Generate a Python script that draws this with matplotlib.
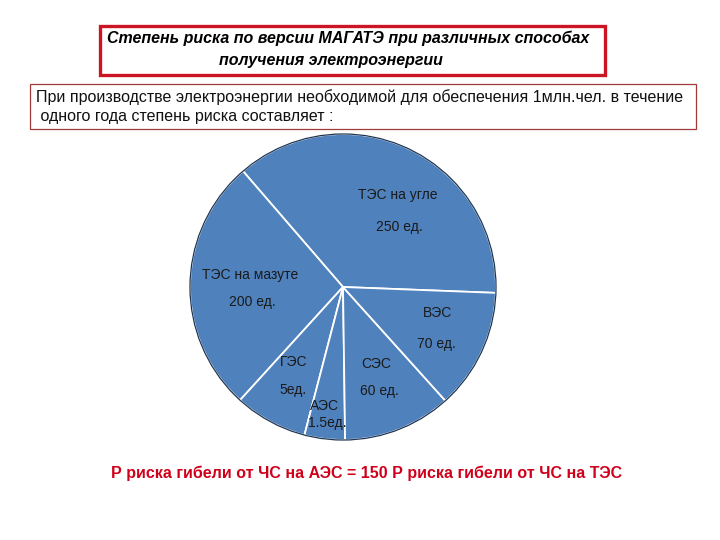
import matplotlib
matplotlib.use("Agg")
import matplotlib.pyplot as plt
from matplotlib.patches import Rectangle, Circle

# ---- data (slice shares, degrees) ----
names = ["ТЭС на угле", "ТЭС на мазуте", "ГЭС", "АЭС", "СЭС", "ВЭС"]
value_labels = ["250 ед.", "200 ед.", "5ед.", "1.5ед.", "60 ед.", "70 ед."]
shares = [133.0, 96.9, 27.7, 15.4, 41.2, 45.8]

title_lines = ["Степень риска по версии МАГАТЭ при различных способах",
               "получения электроэнергии"]
intro_lines = ["При производстве электроэнергии необходимой для обеспечения 1млн.чел. в течение",
               " одного года степень риска составляет :"]
footer = "Р риска гибели от ЧС на АЭС = 150 Р риска гибели от ЧС на ТЭС"

plt.rcParams['font.family'] = ['Liberation Sans', 'DejaVu Sans']

W, H = 720, 540
fig = plt.figure(figsize=(7.2, 5.4), dpi=100)
fig.patch.set_facecolor("white")

def fx(x):
    return x / W

def fy(y):
    return 1 - y / H

# title box
fig.patches.append(Rectangle((fx(100), fy(75)), fx(605) - fx(100), fy(26) - fy(75),
                             transform=fig.transFigure, fill=False,
                             edgecolor="#CC1424", linewidth=2.4))
fig.text(fx(107), fy(38), title_lines[0], fontsize=11.5, fontweight="bold",
         fontstyle="italic", va="center", ha="left", color="black")
fig.text(fx(219), fy(60), title_lines[1], fontsize=11.5, fontweight="bold",
         fontstyle="italic", va="center", ha="left", color="black")

# intro box
fig.patches.append(Rectangle((fx(30), fy(129)), fx(696) - fx(30), fy(84) - fy(129),
                             transform=fig.transFigure, fill=False,
                             edgecolor="#A23A3A", linewidth=0.9))
fig.text(fx(36), fy(97), intro_lines[0], fontsize=11.5, va="center", ha="left",
         color="#111111")
fig.text(fx(36), fy(116), intro_lines[1], fontsize=11.5, va="center", ha="left",
         color="#111111")

# pie
cx, cy, r = 343, 287, 153
ax = fig.add_axes([fx(cx - r), fy(cy + r), 2 * r / W, 2 * r / H])
wedges, _ = ax.pie(shares, startangle=-2.2, counterclock=True, radius=1.0,
                   colors=["#4F81BD"] * len(shares),
                   wedgeprops=dict(edgecolor="white", linewidth=1.3, clip_on=False))
ax.add_patch(Circle((0, 0), 1.0, fill=False, edgecolor="#1F3550", linewidth=0.9,
                    clip_on=False))
ax.set_xlim(-1.0, 1.0)
ax.set_ylim(-1.0, 1.0)
ax.set_aspect("equal")
ax.axis("off")

# label positions (relative to pie radius)
name_pos = [(0.36, 0.60), (-0.61, 0.08), (-0.32, -0.49), (-0.12, -0.78),
            (0.22, -0.50), (0.62, -0.17)]
value_pos = [(0.37, 0.39), (-0.59, -0.10), (-0.33, -0.67), (-0.10, -0.89),
             (0.24, -0.68), (0.61, -0.37)]
for n, v, (nx, ny), (vx, vy) in zip(names, value_labels, name_pos, value_pos):
    ax.text(nx, ny, n, fontsize=10, ha="center", va="center", color="#1a1a1a")
    ax.text(vx, vy, v, fontsize=10, ha="center", va="center", color="#1a1a1a")

# footer
fig.text(fx(367), fy(473), footer, fontsize=11.5, fontweight="bold", ha="center",
         va="center", color="#D0001A")

fig.savefig("out.png", dpi=100, facecolor="white")
